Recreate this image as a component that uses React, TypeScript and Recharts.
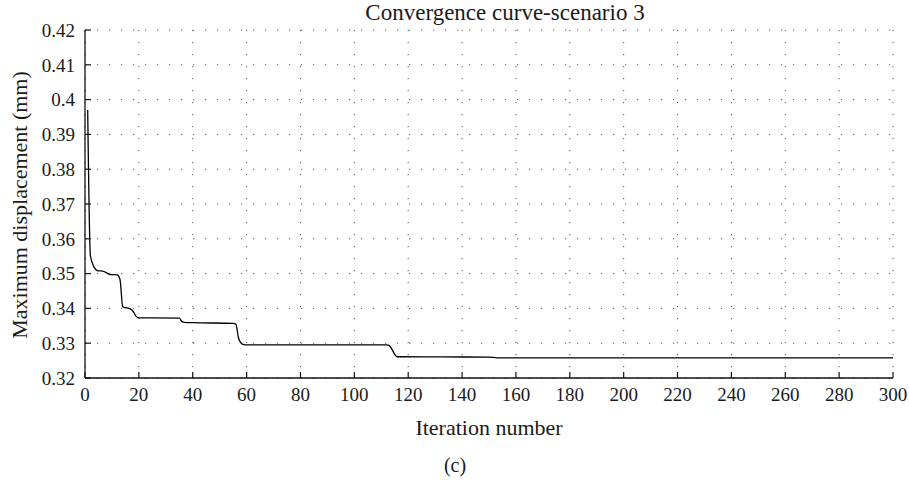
import React from 'react';
import { LineChart, Line, XAxis, YAxis, CartesianGrid } from 'recharts';

// Best objective value found so far, per optimisation iteration
const iterations = [
  1, 2, 3, 4, 5, 6, 7, 8, 9, 10, 11, 12, 13, 14, 15, 16, 17, 18, 19, 20,
  35, 36, 37, 40, 55, 56, 57, 58, 59, 60, 112, 113, 114, 115, 116, 150, 153, 300,
];
const displacement = [
  0.397, 0.3552, 0.3525, 0.3512, 0.3508, 0.3508, 0.3506, 0.3502, 0.3498, 0.3497,
  0.3497, 0.3496, 0.3483, 0.3405, 0.3402, 0.3401, 0.3398, 0.339, 0.3377, 0.3373,
  0.3372, 0.3362, 0.336, 0.3359, 0.3357, 0.3355, 0.3315, 0.33, 0.3296, 0.3295,
  0.3295, 0.3293, 0.3282, 0.3268, 0.3261, 0.326, 0.3258, 0.3258,
];

const xTicks = [0, 20, 40, 60, 80, 100, 120, 140, 160, 180, 200, 220, 240, 260, 280, 300];
const yTicks = [0.32, 0.33, 0.34, 0.35, 0.36, 0.37, 0.38, 0.39, 0.4, 0.41, 0.42];

const titleText = 'Convergence curve-scenario 3';
const xLabelText = 'Iteration number';
const yLabelText = 'Maximum displacement (mm)';
const panelText = '(c)';

const data = iterations.map((iteration, i) => ({ iteration, value: displacement[i] }));

const FONT = '"Liberation Serif", serif';
const tickStyle = { fontFamily: FONT, fontSize: 19, fill: '#1a1a1a' };
const axisLine = { stroke: '#111', strokeWidth: 1.3 };
const tickLine = { stroke: '#111', strokeWidth: 1.2 };
const fmtY = (v: number) => String(Number(v.toFixed(2)));

const textBase: React.CSSProperties = {
  position: 'absolute',
  fontFamily: FONT,
  color: '#1a1a1a',
  whiteSpace: 'nowrap',
  lineHeight: 1,
};

export default function App() {
  return (
    <div style={{ position: 'absolute', left: 0, top: 0, width: 909, height: 481, background: '#fff' }}>
      <LineChart width={909} height={481} data={data} margin={{ top: 30, right: 16, bottom: 0, left: 0 }}>
        <CartesianGrid stroke="#555" strokeWidth={1} strokeDasharray="1.2 10.8" />
        <XAxis
          dataKey="iteration"
          type="number"
          domain={[0, 300]}
          ticks={xTicks}
          height={103}
          axisLine={axisLine}
          tickLine={tickLine}
          tickSize={-6}
          tickMargin={16}
          tick={tickStyle}
          interval={0}
          allowDataOverflow
        />
        <XAxis
          xAxisId="top"
          orientation="top"
          type="number"
          domain={[0, 300]}
          ticks={xTicks}
          height={0}
          axisLine={axisLine}
          tickLine={tickLine}
          tickSize={-6}
          tickFormatter={() => ''}
          interval={0}
        />
        <YAxis
          type="number"
          domain={[0.32, 0.42]}
          ticks={yTicks}
          width={85}
          axisLine={axisLine}
          tickLine={tickLine}
          tickSize={-6}
          tickMargin={16}
          tick={tickStyle}
          tickFormatter={fmtY}
          interval={0}
          allowDataOverflow
        />
        <YAxis
          yAxisId="right"
          orientation="right"
          type="number"
          domain={[0.32, 0.42]}
          ticks={yTicks}
          width={0}
          axisLine={axisLine}
          tickLine={tickLine}
          tickSize={-6}
          tickFormatter={() => ''}
          interval={0}
        />
        <Line
          dataKey="value"
          type="monotone"
          stroke="#000"
          strokeWidth={1.3}
          dot={false}
          activeDot={false}
          isAnimationActive={false}
        />
      </LineChart>
      <div style={{ ...textBase, fontSize: 23, left: 505, top: 1, transform: 'translateX(-50%)' }}>{titleText}</div>
      <div style={{ ...textBase, fontSize: 22, left: 489, top: 417, transform: 'translateX(-50%)' }}>{xLabelText}</div>
      <div style={{ ...textBase, fontSize: 20, left: 455, top: 455, transform: 'translateX(-50%)' }}>{panelText}</div>
      <div
        style={{
          ...textBase,
          fontSize: 22,
          left: 19.6,
          top: 205,
          transform: 'translate(-50%, -50%) rotate(-90deg)',
        }}
      >
        {yLabelText}
      </div>
    </div>
  );
}
